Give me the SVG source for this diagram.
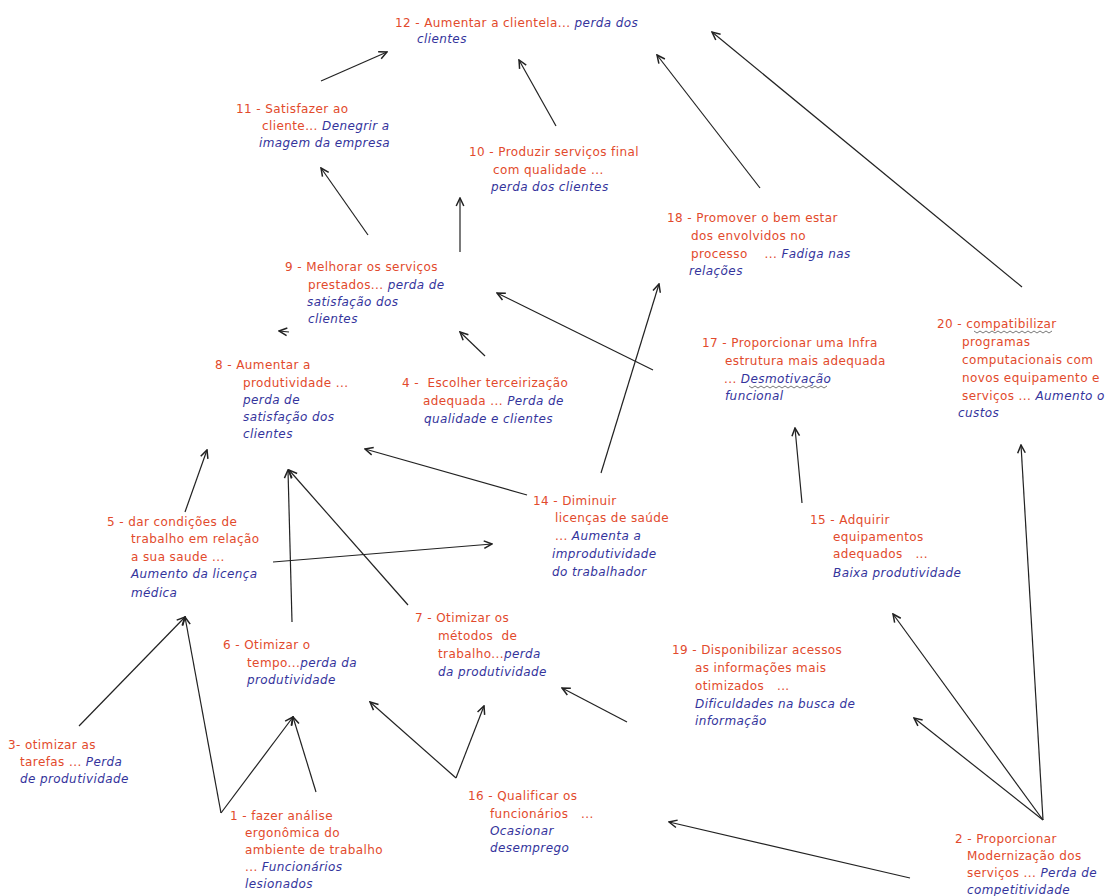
<svg xmlns="http://www.w3.org/2000/svg" width="1115" height="896" viewBox="0 0 1115 896">
<style>
text{font-family:"DejaVu Sans","Verdana",sans-serif;font-size:12px;letter-spacing:0.4px;white-space:pre}
.r{fill:#e24a2c}
.b{fill:#34349c;font-style:italic}
.ln{stroke:#222;stroke-width:1.2;fill:none;marker-end:url(#ah)}
.sq{stroke:#555;stroke-width:0.8;fill:none}
</style>
<defs>
<marker id="ah" viewBox="0 0 10 10" refX="9" refY="5" markerWidth="10" markerHeight="10" markerUnits="userSpaceOnUse" orient="auto">
<path d="M1,1.2 L9,5 L1,8.8" fill="none" stroke="#222" stroke-width="1.5"/>
</marker>
</defs>
<rect width="1115" height="896" fill="#fff"/>

<g id="connectors">
<line class="ln" x1="321" y1="81" x2="387" y2="52"/>
<line class="ln" x1="556" y1="126" x2="519" y2="60"/>
<line class="ln" x1="760" y1="188" x2="657" y2="55"/>
<line class="ln" x1="1022" y1="287" x2="712" y2="32"/>
<line class="ln" x1="368" y1="235" x2="321" y2="168"/>
<line class="ln" x1="460" y1="252" x2="460" y2="198"/>
<line class="ln" x1="485" y1="356" x2="460" y2="332"/>
<line class="ln" x1="653" y1="370" x2="497" y2="293"/>
<line class="ln" x1="601" y1="473" x2="659" y2="284"/>
<line class="ln" x1="802" y1="503" x2="795" y2="428"/>
<line class="ln" x1="289" y1="332" x2="279" y2="331"/>
<line class="ln" x1="185" y1="512" x2="207" y2="450"/>
<line class="ln" x1="527" y1="495" x2="365" y2="449"/>
<line class="ln" x1="273" y1="562" x2="492" y2="544"/>
<line class="ln" x1="292" y1="622" x2="288" y2="470"/>
<line class="ln" x1="408" y1="605" x2="289" y2="470"/>
<line class="ln" x1="79" y1="726" x2="185" y2="617"/>
<line class="ln" x1="221" y1="813" x2="185" y2="617"/>
<line class="ln" x1="221" y1="813" x2="293" y2="717"/>
<line class="ln" x1="316" y1="792" x2="293" y2="717"/>
<line class="ln" x1="456" y1="778" x2="370" y2="702"/>
<line class="ln" x1="456" y1="778" x2="484" y2="706"/>
<line class="ln" x1="627" y1="722" x2="562" y2="688"/>
<line class="ln" x1="910" y1="878" x2="669" y2="822"/>
<line class="ln" x1="1043" y1="820" x2="914" y2="718"/>
<line class="ln" x1="1043" y1="820" x2="893" y2="614"/>
<line class="ln" x1="1043" y1="820" x2="1021" y2="445"/>
</g>

<g id="n12">
<text x="395" y="27"><tspan class="r">12 - Aumentar a clientela... </tspan><tspan class="b">perda dos</tspan></text>
<text x="417" y="43" class="b">clientes</text>
</g>

<g id="n11">
<text x="236" y="113" class="r">11 - Satisfazer ao</text>
<text x="262" y="130"><tspan class="r">cliente... </tspan><tspan class="b">Denegrir a</tspan></text>
<text x="259" y="147" class="b">imagem da empresa</text>
</g>

<g id="n10">
<text x="469" y="156" class="r">10 - Produzir serviços final</text>
<text x="493" y="174" class="r">com qualidade ...</text>
<text x="491" y="191" class="b">perda dos clientes</text>
</g>

<g id="n18">
<text x="667" y="222" class="r">18 - Promover o bem estar</text>
<text x="691" y="240" class="r">dos envolvidos no</text>
<text x="691" y="258"><tspan class="r">processo    ... </tspan><tspan class="b">Fadiga nas</tspan></text>
<text x="689" y="275" class="b">relações</text>
</g>

<g id="n9">
<text x="285" y="271" class="r">9 - Melhorar os serviços</text>
<text x="308" y="289"><tspan class="r">prestados... </tspan><tspan class="b">perda de</tspan></text>
<text x="307" y="306" class="b">satisfação dos</text>
<text x="308" y="323" class="b">clientes</text>
</g>

<g id="n20">
<text x="937" y="328" class="r">20 - compatibilizar</text>
<path class="sq" d="M974,331 l3,2 l3,-2 l3,2 l3,-2 l3,2 l3,-2 l3,2 l3,-2 l3,2 l3,-2 l3,2 l3,-2 l3,2 l3,-2 l3,2 l3,-2 l3,2 l3,-2 l3,2 l3,-2 l3,2 l3,-2 l3,2 l3,-2 l3,2 l3,-2"/>
<text x="962" y="346" class="r">programas</text>
<text x="962" y="364" class="r">computacionais com</text>
<text x="962" y="382" class="r">novos equipamento e</text>
<text x="962" y="400"><tspan class="r">serviços ... </tspan><tspan class="b">Aumento o</tspan></text>
<text x="958" y="417" class="b">custos</text>
</g>

<g id="n17">
<text x="702" y="347" class="r">17 - Proporcionar uma Infra</text>
<text x="725" y="365" class="r">estrutura mais adequada</text>
<text x="724" y="383"><tspan class="r">... </tspan><tspan class="b">Desmotivação</tspan></text>
<path class="sq" d="M749,386 l3,2 l3,-2 l3,2 l3,-2 l3,2 l3,-2 l3,2 l3,-2 l3,2 l3,-2 l3,2 l3,-2 l3,2 l3,-2 l3,2 l3,-2 l3,2 l3,-2 l3,2 l3,-2 l3,2 l3,-2 l3,2 l3,-2 l3,2 l3,-2"/>
<text x="725" y="400" class="b">funcional</text>
</g>

<g id="n8">
<text x="215" y="369" class="r">8 - Aumentar a</text>
<text x="243" y="387" class="r">produtividade ...</text>
<text x="243" y="404" class="b">perda de</text>
<text x="243" y="421" class="b">satisfação dos</text>
<text x="243" y="438" class="b">clientes</text>
</g>

<g id="n4">
<text x="402" y="387" class="r">4 -  Escolher terceirização</text>
<text x="423" y="405"><tspan class="r">adequada ... </tspan><tspan class="b">Perda de</tspan></text>
<text x="424" y="423" class="b">qualidade e clientes</text>
</g>

<g id="n14">
<text x="533" y="505" class="r">14 - Diminuir</text>
<text x="555" y="522" class="r">licenças de saúde</text>
<text x="555" y="540"><tspan class="r">... </tspan><tspan class="b">Aumenta a</tspan></text>
<text x="552" y="558" class="b">improdutividade</text>
<text x="552" y="576" class="b">do trabalhador</text>
</g>

<g id="n15">
<text x="810" y="524" class="r">15 - Adquirir</text>
<text x="833" y="541" class="r">equipamentos</text>
<text x="833" y="558" class="r">adequados   ...</text>
<text x="833" y="577" class="b">Baixa produtividade</text>
</g>

<g id="n5">
<text x="107" y="526" class="r">5 - dar condições de</text>
<text x="131" y="543" class="r">trabalho em relação</text>
<text x="131" y="561" class="r">a sua saude ...</text>
<text x="131" y="578" class="b">Aumento da licença</text>
<text x="131" y="597" class="b">médica</text>
</g>

<g id="n7">
<text x="415" y="622" class="r">7 - Otimizar os</text>
<text x="438" y="640" class="r">métodos  de</text>
<text x="438" y="658"><tspan class="r">trabalho...</tspan><tspan class="b">perda</tspan></text>
<text x="438" y="676" class="b">da produtividade</text>
</g>

<g id="n6">
<text x="223" y="649" class="r">6 - Otimizar o</text>
<text x="247" y="667"><tspan class="r">tempo...</tspan><tspan class="b">perda da</tspan></text>
<text x="247" y="684" class="b">produtividade</text>
</g>

<g id="n19">
<text x="672" y="654" class="r">19 - Disponibilizar acessos</text>
<text x="695" y="672" class="r">as informações mais</text>
<text x="695" y="690" class="r">otimizados   ...</text>
<text x="695" y="708" class="b">Dificuldades na busca de</text>
<text x="695" y="725" class="b">informação</text>
</g>

<g id="n3">
<text x="8" y="749" class="r">3- otimizar as</text>
<text x="20" y="766"><tspan class="r">tarefas ... </tspan><tspan class="b">Perda</tspan></text>
<text x="20" y="783" class="b">de produtividade</text>
</g>

<g id="n1">
<text x="230" y="820" class="r">1 - fazer análise</text>
<text x="245" y="837" class="r">ergonômica do</text>
<text x="245" y="854" class="r">ambiente de trabalho</text>
<text x="245" y="871"><tspan class="r">... </tspan><tspan class="b">Funcionários</tspan></text>
<text x="245" y="888" class="b">lesionados</text>
</g>

<g id="n16">
<text x="468" y="800" class="r">16 - Qualificar os</text>
<text x="490" y="818" class="r">funcionários   ...</text>
<text x="490" y="835" class="b">Ocasionar</text>
<text x="490" y="852" class="b">desemprego</text>
</g>

<g id="n2">
<text x="955" y="843" class="r">2 - Proporcionar</text>
<text x="967" y="860" class="r">Modernização dos</text>
<text x="967" y="877"><tspan class="r">serviços ... </tspan><tspan class="b">Perda de</tspan></text>
<text x="967" y="894" class="b">competitividade</text>
</g>
</svg>
